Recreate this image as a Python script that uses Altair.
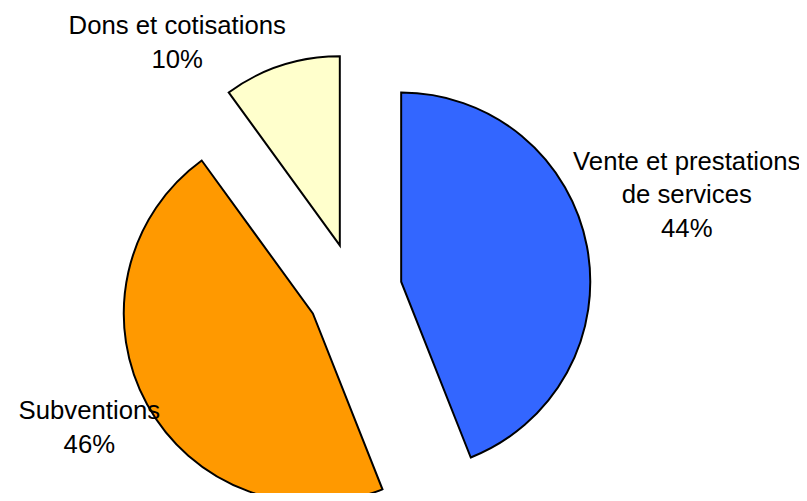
import altair as alt
import pandas as pd

# Data
categories = ["Vente et prestations\nde services", "Subventions", "Dons et cotisations"]
values = [44, 46, 10]
colors = ["#3366FF", "#FF9900", "#FFFFCC"]

# Layout / style
W, H = 799, 485
CX, CY = 350, 283          # pie centre inside the plot area
R = 191                    # pie radius
EXPLODE = 48               # explosion distance
LABEL_R = 224              # distance of the label's inner corner
FONT = 26
LINE_H = 34

# Approximate Arial/Liberation Sans advance widths (em/1000) to size label boxes
GLYPH_W = {
    "a": 556, "b": 556, "c": 500, "d": 556, "e": 556, "f": 278, "g": 556, "h": 556,
    "i": 222, "j": 222, "k": 500, "l": 222, "m": 833, "n": 556, "o": 556, "p": 556,
    "q": 556, "r": 333, "s": 500, "t": 278, "u": 556, "v": 500, "w": 722, "x": 500,
    "y": 500, "z": 500, " ": 278, "D": 722, "S": 667, "V": 667, "%": 889,
}


def text_w(s):
    return sum(GLYPH_W.get(ch, 556) for ch in s) / 1000 * FONT


df = pd.DataFrame({
    "category": categories,
    "value": values,
    "order": list(range(len(values))),
})
df["label"] = [f"{c}\n{v}%" for c, v in zip(categories, values)]
df["half_w"] = [max(text_w(s) for s in lab.split("\n")) / 2 for lab in df["label"]]
df["box_h"] = [(lab.count("\n") + 1) * LINE_H for lab in df["label"]]

base = (
    alt.Chart(df)
    .transform_window(cum="sum(value)", sort=[alt.SortField("order")])
    .transform_joinaggregate(total="sum(value)")
    .transform_calculate(
        start="2*PI*(datum.cum-datum.value)/datum.total",
        end="2*PI*datum.cum/datum.total",
    )
    .transform_calculate(mid="(datum.start+datum.end)/2")
    .transform_calculate(
        dx=f"{EXPLODE}*sin(datum.mid)",
        dy=f"{EXPLODE}*cos(datum.mid)",
        lx=f"{LABEL_R}*sin(datum.mid) + (sin(datum.mid) >= 0 ? 1 : -1)*datum.half_w",
        ly=f"{LABEL_R}*cos(datum.mid) + (cos(datum.mid) >= 0 ? datum.box_h : 0)",
    )
)

xscale = alt.Scale(domain=[-CX, W - CX], nice=False, zero=False)
yscale = alt.Scale(domain=[CY - H, CY], nice=False, zero=False)

pie = base.mark_arc(radius=R, stroke="black", strokeWidth=2).encode(
    x=alt.X("dx:Q", scale=xscale, axis=None),
    y=alt.Y("dy:Q", scale=yscale, axis=None),
    theta=alt.Theta("start:Q", scale=None),
    theta2="end:Q",
    color=alt.Color("category:N", scale=alt.Scale(domain=categories, range=colors), legend=None),
)

labels = base.mark_text(
    font="Liberation Sans", fontSize=FONT, lineHeight=LINE_H, lineBreak="\n",
    align="center", baseline="line-top", color="black", dy=-3,
).encode(
    x=alt.X("lx:Q", scale=xscale, axis=None),
    y=alt.Y("ly:Q", scale=yscale, axis=None),
    text="label:N",
)

chart = (
    alt.layer(pie, labels)
    .properties(width=W, height=H, autosize=alt.AutoSizeParams(type="none"), padding=0,
                background="white")
    .configure_view(stroke=None)
)

chart.save("out.html", embed_options={"renderer": "svg", "actions": False})
